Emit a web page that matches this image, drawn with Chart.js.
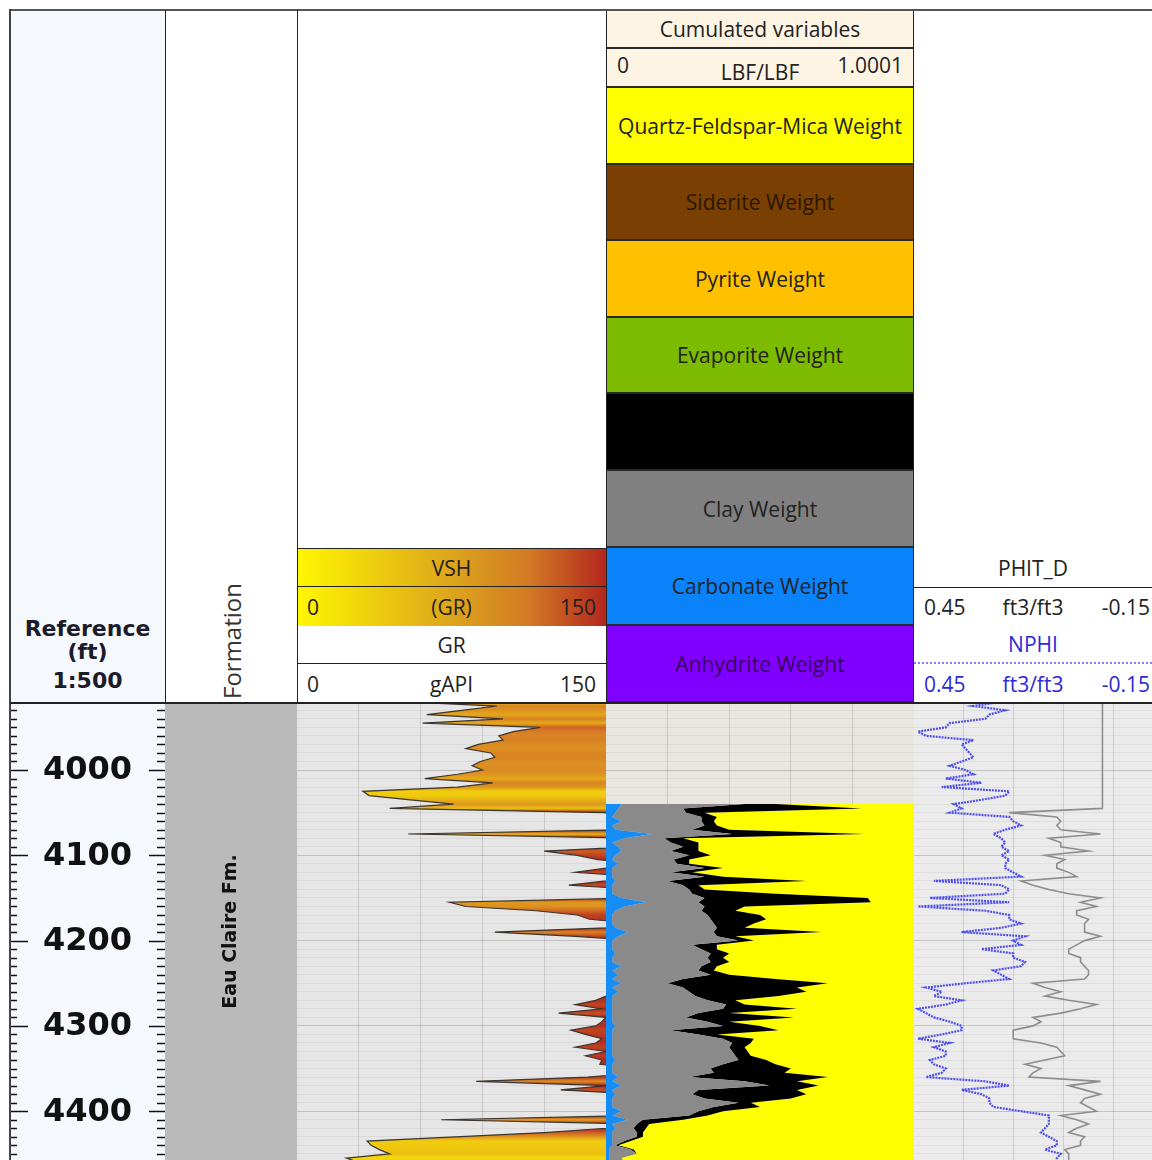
<!DOCTYPE html>
<html>
<head>
<meta charset="utf-8">
<script src="https://cdn.jsdelivr.net/npm/chart.js@4.4.1/dist/chart.umd.min.js"></script>
<style>
  body { margin: 0; width: 1152px; height: 1160px; overflow: hidden; background: #fff; position: relative;
         font-family: "Open Sans", "Noto Sans", sans-serif; color: #222; }
  .abs { position: absolute; box-sizing: border-box; }
  .cell { position: absolute; box-sizing: border-box; display: flex; align-items: center; justify-content: center;
          font-size: 21px; white-space: nowrap; }
  .cell .l { position: absolute; left: 10px; }
  .cell .r { position: absolute; right: 10px; }
  .cum { left: 606px; width: 308px; border-left: 1px solid #222; border-right: 1px solid #222; border-bottom: 2px solid #2a2a2a; }
  .ref { position: absolute; left: 10px; width: 155px; text-align: center; font: bold 22px "DejaVu Sans"; color: #1b1b2a; line-height: 24px; }
  canvas { position: absolute; }
  .line { position: absolute; background: #222; z-index: 5; }
</style>
</head>
<body>

<!-- header: reference + formation -->
<div class="abs" style="left:10px;top:10px;width:155px;height:693px;background:#f5f8fd"></div>
<div class="ref" style="top:617px">Reference</div>
<div class="ref" style="top:640px">(ft)</div>
<div class="ref" style="top:669px">1:500</div>
<div class="abs" style="left:157px;top:626px;width:150px;height:30px;transform:rotate(-90deg);text-align:center;font-size:24px;line-height:30px;color:#333">Formation</div>

<!-- header: GR track -->
<div class="cell" style="left:297px;top:548px;width:309px;height:39px;border-top:1px solid #222;border-bottom:1px solid #222;background:linear-gradient(to right,#fff700,#dca51c 50%,#d27a24 75%,#b3261e)">VSH</div>
<div class="cell" style="left:297px;top:587px;width:309px;height:39px;background:linear-gradient(to right,#fff700,#dca51c 50%,#d27a24 75%,#b3261e)"><span class="l">0</span>(GR)<span class="r">150</span></div>
<div class="cell" style="left:297px;top:626px;width:309px;height:38px;border-bottom:1px solid #222">GR</div>
<div class="cell" style="left:297px;top:664px;width:309px;height:39px"><span class="l">0</span>gAPI<span class="r">150</span></div>

<!-- header: cumulated variables -->
<div class="cell cum" style="top:10px;height:39px;background:#fdf4e4">Cumulated variables</div>
<div class="cell cum" style="top:49px;height:39px;background:#fdf4e4"><span class="l" style="top:2px">0</span><span style="margin-top:8px">LBF/LBF</span><span class="r" style="top:2px">1.0001</span></div>
<div class="cell cum" style="top:88px;height:77px;background:#ffff00">Quartz-Feldspar-Mica Weight</div>
<div class="cell cum" style="top:165px;height:76px;background:#7a3f02;color:#2a1800">Siderite Weight</div>
<div class="cell cum" style="top:241px;height:77px;background:#ffc000">Pyrite Weight</div>
<div class="cell cum" style="top:318px;height:76px;background:#7cbb00">Evaporite Weight</div>
<div class="cell cum" style="top:394px;height:77px;background:#000"></div>
<div class="cell cum" style="top:471px;height:77px;background:#808080">Clay Weight</div>
<div class="cell cum" style="top:548px;height:78px;background:#0a82fa">Carbonate Weight</div>
<div class="cell cum" style="top:626px;height:77px;background:#8000ff;color:#3a0060">Anhydrite Weight</div>

<!-- header: porosity track -->
<div class="cell" style="left:914px;top:548px;width:238px;height:39px">PHIT_D</div>
<div class="cell" style="left:914px;top:587px;width:238px;height:39px;border-top:1px solid #222"><span class="l">0.45</span>ft3/ft3<span class="r" style="right:2px">-0.15</span></div>
<div class="cell" style="left:914px;top:626px;width:238px;height:38px;color:#2a2ad8;border-bottom:2px dotted #8080f0">NPHI</div>
<div class="cell" style="left:914px;top:664px;width:238px;height:39px;color:#2a2ad8"><span class="l">0.45</span>ft3/ft3<span class="r" style="right:2px">-0.15</span></div>

<!-- data tracks -->
<canvas id="refTrack" width="155" height="457" style="left:10px;top:703px;background:#f5f8fd"></canvas>
<canvas id="formationTrack" width="132" height="457" style="left:165px;top:703px;background:#f5f8fd"></canvas>
<canvas id="grTrack" width="309" height="457" style="left:297px;top:703px;background:#e6e6e6"></canvas>
<canvas id="mineralTrack" width="308" height="457" style="left:606px;top:703px;background:#e9e6df"></canvas>
<canvas id="porosityTrack" width="238" height="457" style="left:914px;top:703px;background:#ebebeb"></canvas>

<!-- frame lines -->
<div class="line" style="left:10px;top:9px;width:1142px;height:2px;background:#555"></div>
<div class="line" style="left:9px;top:9px;width:2px;height:1151px;background:#444"></div>
<div class="line" style="left:165px;top:10px;width:1px;height:693px"></div>
<div class="line" style="left:297px;top:10px;width:1px;height:693px"></div>
<div class="line" style="left:10px;top:702px;width:1142px;height:2px"></div>

<script>
// depth samples (ft), shared by the curves
const depth = [
  3920, 3925, 3930, 3935, 3940, 3945, 3950, 3955, 3960, 3965,
  3970, 3975, 3980, 3985, 3990, 3995, 4000, 4005, 4010, 4015,
  4020, 4025, 4030, 4035, 4040, 4045, 4050, 4055, 4060, 4065,
  4070, 4075, 4080, 4085, 4090, 4095, 4100, 4105, 4110, 4115,
  4120, 4125, 4130, 4135, 4140, 4145, 4150, 4155, 4160, 4165,
  4170, 4175, 4180, 4185, 4190, 4195, 4200, 4205, 4210, 4215,
  4220, 4225, 4230, 4235, 4240, 4245, 4250, 4255, 4260, 4265,
  4270, 4275, 4280, 4285, 4290, 4295, 4300, 4305, 4310, 4315,
  4320, 4325, 4330, 4335, 4340, 4345, 4350, 4355, 4360, 4365,
  4370, 4375, 4380, 4385, 4390, 4395, 4400, 4405, 4410, 4415,
  4420, 4425, 4430, 4435, 4440, 4445, 4450, 4455, 4460
];

// GR (gAPI); values past 150 run off the track
const gr = [
  52, 97, 80, 63, 100, 61, 118, 105, 98, 100,
  88, 82, 94, 96, 89, 85, 90, 78, 62, 95,
  78, 32, 35, 55, 76, 45, 149, 165, 165, 165,
  160, 54, 165, 165, 165, 120, 136, 146, 165, 150,
  135, 165, 150, 132, 165, 165, 165, 74, 82, 116,
  136, 142, 165, 150, 96, 135, 165, 165, 165, 165,
  165, 165, 165, 165, 165, 165, 165, 165, 165, 150,
  145, 135, 148, 127, 150, 148, 145, 133, 140, 148,
  145, 135, 150, 140, 148, 147, 165, 165, 141, 87,
  150, 128, 165, 165, 165, 165, 165, 165, 70, 165,
  150, 120, 77, 34, 36, 40, 45, 24, 30
];

// NPHI (ft3/ft3)
const nphi = [
  .23, .30, .22, .26, .27, .36, .37, .44, .42, .30,
  .33, .32, .31, .30, .33, .36, .32, .30, .37, .28,
  .38, .21, .22, .28, .35, .33, .36, .21, .20, .18,
  .22, .25, .23, .22, .23, .21, .23, .21, .22, .22,
  .20, .18, .40, .23, .21, .22, .41, .21, .44, .27,
  .21, .21, .18, .23, .33, .17, .20, .18, .28, .20,
  .20, .17, .18, .25, .23, .21, .32, .42, .38, .40,
  .33, .37, .44, .42, .40, .36, .33, .33, .38, .44,
  .36, .40, .37, .37, .41, .40, .37, .38, .42, .27,
  .21, .33, .28, .26, .26, .25, .18, .11, .11, .11,
  .12, .13, .11, .09, .09, .12, .08, .09, .09
];

// PHIT_D (ft3/ft3)
const phitD = [
  -.025, -.025, -.025, -.025, -.025, -.025, -.025, -.025, -.025, -.025,
  -.025, -.025, -.025, -.025, -.025, -.025, -.025, -.025, -.025, -.025,
  -.025, -.025, -.025, -.025, -.025, -.025, .21, .09, .08, .09,
  .08, -.02, .11, .08, .08, .01, .12, .07, .09, .09,
  .06, .04, .18, .15, .11, .06, -.02, .03, -.01, .04,
  .04, .01, .02, .02, .02, -.02, .02, .04, .06, .06,
  .03, .03, .02, .01, .01, .02, .15, .12, .08, .12,
  .06, -.01, .03, .08, .15, .13, .15, .20, .20, .20,
  .13, .09, .08, .07, .12, .17, .13, .15, .16, -.02,
  .06, .02, -.02, .02, .03, .01, -.01, .08, .04, .01,
  .04, .06, .02, .03, .03, .07, .06, .06, .06
];

// cumulated mineral weights (LBF/LBF), from 4040 ft down
const mineralDepth = depth.slice(depth.indexOf(4040));
const carbonateCum = [
  .05, .04, .03, .02, .05, .02, .03, .15, .06, .02,
  .04, .05, .03, .02, .04, .02, .02, .02, .03, .02,
  .02, .02, .05, .13, .06, .03, .02, .02, .02, .03,
  .07, .04, .02, .02, .02, .03, .02, .02, .05, .02,
  .04, .02, .05, .02, .04, .02, .02, .02, .02, .02,
  .02, .02, .03, .02, .02, .02, .02, .02, .02, .02,
  .03, .02, .02, .02, .04, .02, .05, .02, .03, .02,
  .02, .02, .05, .02, .07, .02, .03, .02, .02, .02,
  .02, .01, .01, .01, .01
];
const clayCum = [
  .45, .25, .26, .31, .31, .32, .28, .41, .19, .21,
  .25, .21, .27, .22, .23, .32, .21, .32, .20, .25,
  .27, .28, .32, .30, .32, .31, .33, .34, .35, .36,
  .35, .36, .43, .28, .31, .34, .33, .34, .31, .30,
  .34, .25, .20, .25, .27, .29, .33, .39, .38, .30,
  .26, .33, .38, .21, .30, .38, .41, .40, .41, .42,
  .43, .38, .34, .35, .27, .45, .53, .30, .28, .32,
  .43, .35, .30, .27, .12, .10, .09, .10, .10, .06,
  .03, .08, .10, .05, .06
];
const otherCum = [
  .55, .83, .32, .36, .35, .36, .40, .84, .25, .30,
  .30, .30, .34, .27, .27, .38, .28, .38, .65, .30,
  .32, .55, .85, .86, .45, .42, .50, .52, .48, .45,
  .70, .42, .48, .36, .36, .40, .38, .40, .36, .35,
  .40, .55, .72, .62, .65, .56, .42, .45, .62, .40,
  .61, .40, .50, .56, .36, .48, .47, .45, .46, .47,
  .52, .55, .60, .58, .72, .62, .69, .62, .65, .60,
  .47, .50, .38, .33, .25, .14, .13, .12, .12, .08,
  .04, .09, .10, .05, .06
];

// formation intervals
const formations = ['Eau Claire Fm.'];
const formationTop = [3900];
const formationBase = [4460];

// tick labels and grid positions
const depthTickLabels = [4000, 4100, 4200, 4300, 4400];
const grTicks = [30, 60, 90, 120];
const mineralTicks = [0.2, 0.4, 0.6, 0.8];
const porosityTicks = [0.324, 0.198, 0.072, -0.054];
const depthView = [3921.45, 4457.2];
const grRange = [0, 150];
const mineralRange = [0, 1.0001];

const vshStops = [[0, [255, 247, 0]], [0.5, [222, 152, 30]], [0.7, [216, 124, 38]], [1, [179, 38, 30]]];

const points = (xs, ys) => ys.map((y, i) => ({ x: xs[i], y }));

function vshColor(v) {
  const t = Math.max(0, Math.min(1, v / grRange[1]));
  for (let i = 1; i < vshStops.length; i++) {
    const [t0, c0] = vshStops[i - 1];
    const [t1, c1] = vshStops[i];
    if (t <= t1) {
      const f = (t - t0) / (t1 - t0);
      return 'rgb(' + c0.map((c, k) => Math.round(c + (c1[k] - c) * f)).join(',') + ')';
    }
  }
  return 'rgb(179,38,30)';
}

function vshGradient(chart) {
  const { chartArea, scales } = chart;
  if (!chartArea) return '#dca51c';
  const g = chart.ctx.createLinearGradient(0, chartArea.top, 0, chartArea.bottom);
  depth.forEach((d, i) => {
    const p = (scales.y.getPixelForValue(d) - chartArea.top) / (chartArea.bottom - chartArea.top);
    g.addColorStop(Math.max(0, Math.min(1, p)), vshColor(gr[i]));
  });
  return g;
}

function depthAxis(showGrid) {
  return {
    type: 'linear', min: depthView[0], max: depthView[1], reverse: true,
    afterBuildTicks: s => {
      s.ticks = depth.filter(d => d % 10 === 0 && d > s.min && d < s.max).map(v => ({ value: v }));
    },
    ticks: { display: false },
    grid: {
      display: showGrid, drawTicks: false,
      color: c => (c.tick && c.tick.value % 100 === 0) ? 'rgba(0,0,0,0.17)' : 'rgba(0,0,0,0.05)'
    },
    border: { display: false }
  };
}

function valueAxis(min, max, ticks, reverse) {
  return {
    type: 'linear', min, max, reverse: !!reverse,
    afterBuildTicks: s => { s.ticks = ticks.map(v => ({ value: v })); },
    ticks: { display: false },
    grid: { display: ticks.length > 0, drawTicks: false, color: 'rgba(0,0,0,0.13)' },
    border: { display: false }
  };
}

function trackOptions(x, showGrid) {
  return {
    responsive: false, animation: false, indexAxis: 'y',
    layout: { padding: 0 },
    plugins: { legend: { display: false }, tooltip: { enabled: false } },
    elements: { point: { radius: 0 }, line: { tension: 0 } },
    scales: { x, y: depthAxis(showGrid) }
  };
}

// depth ruler: ticks on both sides, labels every 100 ft
const depthRuler = {
  id: 'depthRuler',
  afterDraw(chart) {
    const { ctx, chartArea: a, scales: { y } } = chart;
    ctx.save();
    ctx.strokeStyle = '#111';
    ctx.lineWidth = 1.5;
    y.ticks.forEach(t => {
      const py = Math.round(y.getPixelForValue(t.value)) + 0.5;
      const major = depthTickLabels.includes(t.value);
      ctx.beginPath();
      ctx.moveTo(a.left, py); ctx.lineTo(a.left + (major ? 18 : 7), py);
      ctx.moveTo(a.right, py); ctx.lineTo(a.right - (major ? 16 : 8), py);
      ctx.stroke();
    });
    ctx.font = 'bold 32px "DejaVu Sans"';
    ctx.fillStyle = '#111';
    ctx.textAlign = 'center';
    ctx.textBaseline = 'middle';
    depthTickLabels.forEach(d => ctx.fillText(String(d), (a.left + a.right) / 2, y.getPixelForValue(d) + 1));
    ctx.restore();
  }
};

// formation names written vertically in the middle of the visible interval
const formationLabel = {
  id: 'formationLabel',
  afterDatasetsDraw(chart) {
    const { ctx, chartArea: a, scales: { y } } = chart;
    ctx.save();
    ctx.font = 'bold 19px "DejaVu Sans"';
    ctx.fillStyle = '#111';
    ctx.textAlign = 'center';
    ctx.textBaseline = 'middle';
    formations.forEach((name, i) => {
      const top = Math.max(formationTop[i], y.min);
      const base = Math.min(formationBase[i], y.max);
      const py = y.getPixelForValue((top + base) / 2);
      ctx.save();
      ctx.translate((a.left + a.right) / 2, py);
      ctx.rotate(-Math.PI / 2);
      ctx.fillText(name, 0, 0);
      ctx.restore();
    });
    ctx.restore();
  }
};

new Chart(document.getElementById('refTrack'), {
  type: 'line',
  data: { datasets: [] },
  options: trackOptions(valueAxis(0, 1, []), false),
  plugins: [depthRuler]
});

new Chart(document.getElementById('formationTrack'), {
  type: 'line',
  data: {
    datasets: formations.map((name, i) => ({
      label: name,
      data: [{ x: 1, y: formationTop[i] }, { x: 1, y: formationBase[i] }],
      fill: { value: 0 }, backgroundColor: '#bababa', borderWidth: 0
    }))
  },
  options: trackOptions(valueAxis(0, 1, []), false),
  plugins: [formationLabel]
});

new Chart(document.getElementById('grTrack'), {
  type: 'line',
  data: {
    datasets: [{
      label: 'GR', data: points(gr, depth),
      borderColor: '#3b3531', borderWidth: 1.2,
      fill: { value: grRange[1] }, backgroundColor: ctx => vshGradient(ctx.chart)
    }]
  },
  options: trackOptions(valueAxis(grRange[0], grRange[1], grTicks), true)
});

new Chart(document.getElementById('mineralTrack'), {
  type: 'line',
  data: {
    datasets: [
      { label: 'Carbonate Weight', data: points(carbonateCum, mineralDepth), fill: { value: mineralRange[0] }, backgroundColor: '#168cf5', borderWidth: 0 },
      { label: 'Clay Weight', data: points(clayCum, mineralDepth), fill: '-1', backgroundColor: '#8a8a8a', borderWidth: 0 },
      { label: 'Other', data: points(otherCum, mineralDepth), fill: '-1', backgroundColor: '#000000', borderWidth: 0 },
      { label: 'Quartz-Feldspar-Mica Weight', data: points(otherCum, mineralDepth), fill: { value: mineralRange[1] }, backgroundColor: '#ffff00', borderWidth: 0 }
    ]
  },
  options: trackOptions(valueAxis(mineralRange[0], mineralRange[1], mineralTicks), true)
});

new Chart(document.getElementById('porosityTrack'), {
  type: 'line',
  data: {
    datasets: [
      { label: 'NPHI', data: points(nphi, depth), borderColor: 'rgba(62,62,240,0.9)', borderWidth: 2.2, borderDash: [2, 1], fill: false },
      { label: 'PHIT_D', data: points(phitD, depth), borderColor: '#8d8d8d', borderWidth: 1.6, fill: false }
    ]
  },
  options: trackOptions(valueAxis(-0.15, 0.45, porosityTicks, true), true)
});
</script>
</body>
</html>
